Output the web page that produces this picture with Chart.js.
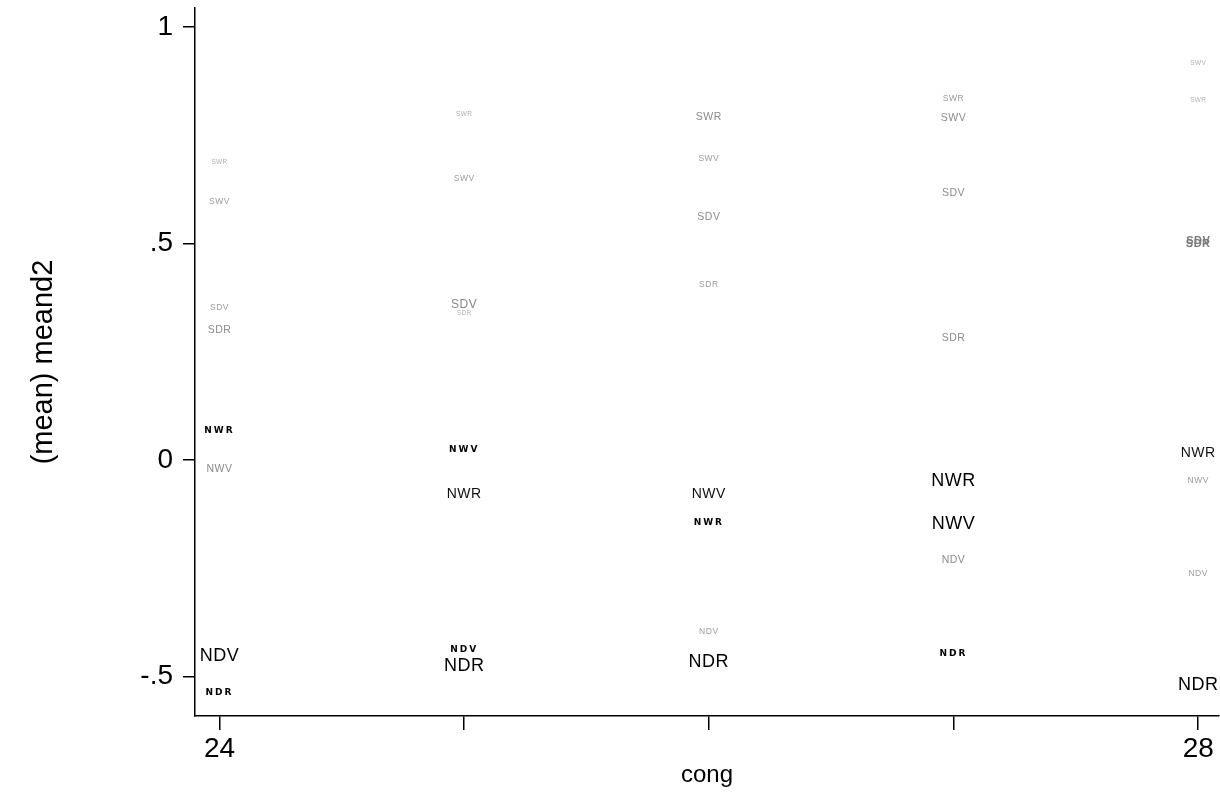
<!DOCTYPE html>
<html>
<head>
<meta charset="utf-8">
<script src="https://cdn.jsdelivr.net/npm/chart.js@4.4.1/dist/chart.umd.min.js"></script>
<style>
  html, body { margin: 0; padding: 0; background: #ffffff; }
  #wrap { width: 1220px; height: 792px; }
</style>
</head>
<body>
<div id="wrap"><canvas id="c" width="1220" height="792"></canvas></div>
<script>
// ---- data ----
const cong = [24, 25, 26, 27, 28];
const seriesNames = ['SWR', 'SWV', 'SDV', 'SDR', 'NWR', 'NWV', 'NDV', 'NDR'];
const SWR = [0.688, 0.799, 0.792, 0.834, 0.831];
const SWV = [0.596, 0.651, 0.697, 0.790, 0.917];
const SDV = [0.351, 0.358, 0.561, 0.617, 0.505];
const SDR = [0.300, 0.339, 0.406, 0.282, 0.500];
const NWR = [0.067, -0.079, -0.145, -0.048, 0.016];
const NWV = [-0.021, 0.025, -0.079, -0.148, -0.048];
const NDV = [-0.453, -0.437, -0.397, -0.231, -0.263];
const NDR = [-0.538, -0.476, -0.467, -0.446, -0.520];
const yTicks = [-0.5, 0, 0.5, 1];
const xTicks = [24, 25, 26, 27, 28];
const xTickLabels = ['24', '', '', '', '28'];
const yTickLabels = ['-.5', '0', '.5', '1'];
const xTitle = 'cong';
const yTitle = '(mean) meand2';

// ---- label styles (per series, per column) ----
const labelStyle = {
  SWR: ['T', 'T', 'G', 'S', 'T'],
  SWV: ['S', 'S', 'S', 'G', 'T'],
  SDV: ['S', 'G2', 'G', 'G', 'GB'],
  SDR: ['G', 'T', 'S', 'G', 'GB'],
  NWR: ['B', 'M', 'B', 'L', 'M'],
  NWV: ['G', 'B', 'M', 'L', 'S'],
  NDV: ['L', 'B', 'S', 'G', 'S'],
  NDR: ['B', 'L', 'L', 'B', 'L']
};
const styleDefs = {
  L:  { font: '18px "Liberation Sans"', color: '#000000', spacing: '0.5px' },
  M:  { font: '14px "Liberation Sans"', color: '#111111', spacing: '0.5px' },
  B:  { font: 'bold 9px "DejaVu Sans"', color: '#000000', spacing: '2px' },
  G:  { font: '10.5px "Liberation Sans"', color: '#8a8a8a', spacing: '0.5px' },
  G2: { font: '12px "Liberation Sans"', color: '#888888', spacing: '0.5px' },
  GB: { font: 'bold 11px "Liberation Sans"', color: '#7a7a7a', spacing: '0.5px' },
  S:  { font: '8.5px "Liberation Sans"', color: '#9a9a9a', spacing: '0.5px' },
  T:  { font: '6.5px "Liberation Sans"', color: '#b0b0b0', spacing: '0.3px' }
};
const seriesData = { SWR, SWV, SDV, SDR, NWR, NWV, NDV, NDR };

const datasets = seriesNames.map(name => ({
  label: name,
  data: cong.map((x, i) => ({ x: x, y: seriesData[name][i] })),
  pointRadius: 0,
  pointHoverRadius: 0,
  showLine: false
}));

const textMarkers = {
  id: 'textMarkers',
  afterDatasetsDraw(chart) {
    const ctx = chart.ctx;
    ctx.save();
    chart.data.datasets.forEach((ds, di) => {
      const meta = chart.getDatasetMeta(di);
      meta.data.forEach((pt, i) => {
        const st = styleDefs[labelStyle[ds.label][i]];
        ctx.font = st.font;
        ctx.fillStyle = st.color;
        ctx.letterSpacing = st.spacing;
        ctx.textAlign = 'center';
        ctx.textBaseline = 'middle';
        ctx.fillText(ds.label, pt.x, pt.y);
      });
    });
    ctx.restore();
  }
};

new Chart(document.getElementById('c'), {
  type: 'scatter',
  data: { datasets },
  plugins: [textMarkers],
  options: {
    responsive: false,
    animation: false,
    events: [],
    layout: { padding: { top: 8, right: 1, left: 0, bottom: 0 } },
    plugins: { legend: { display: false }, tooltip: { enabled: false } },
    scales: {
      x: {
        type: 'linear',
        min: 23.9,
        max: 28.085,
        afterFit(scale) { scale.height = 76; scale.paddingLeft = 0; scale.paddingRight = 0; },
        afterBuildTicks(scale) { scale.ticks = xTicks.map(v => ({ value: v })); },
        ticks: {
          autoSkip: false,
          maxRotation: 0,
          padding: 2,
          color: '#000',
          font: { family: '"Liberation Sans"', size: 28 },
          callback: (v) => { const k = xTicks.indexOf(v); return k >= 0 ? xTickLabels[k] : ''; }
        },
        grid: { display: true, drawOnChartArea: false, drawTicks: true, tickLength: 14, color: '#000', lineWidth: 1.5 },
        border: { display: true, color: '#000', width: 1.5 },
        title: { display: true, text: xTitle, color: '#000', font: { family: '"Liberation Sans"', size: 24 }, padding: { top: 0, bottom: 2 } }
      },
      y: {
        type: 'linear',
        min: -0.591,
        max: 1.044,
        afterFit(scale) { scale.width = 195; scale.paddingTop = 0; scale.paddingBottom = 0; },
        afterBuildTicks(scale) { scale.ticks = yTicks.map(v => ({ value: v })); },
        ticks: {
          autoSkip: false,
          padding: 10,
          color: '#000',
          font: { family: '"Liberation Sans"', size: 28 },
          callback: (v) => { const k = yTicks.indexOf(v); return k >= 0 ? yTickLabels[k] : ''; }
        },
        grid: { display: true, drawOnChartArea: false, drawTicks: true, tickLength: 12, color: '#000', lineWidth: 1.5 },
        border: { display: true, color: '#000', width: 1.5 },
        title: { display: true, text: yTitle, color: '#000', font: { family: '"Liberation Sans"', size: 29 }, padding: { top: 27, bottom: 0 } }
      }
    }
  }
});
</script>
</body>
</html>
